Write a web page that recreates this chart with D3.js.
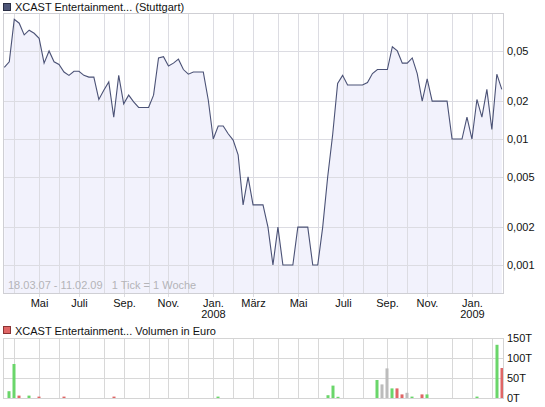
<!DOCTYPE html>
<html><head><meta charset="utf-8">
<script src="https://cdn.jsdelivr.net/npm/d3@7"></script>
<style>
html,body{margin:0;padding:0;background:#fff;}
svg text{font-family:"Liberation Sans",Arial,sans-serif;font-size:11px;}
</style></head>
<body>
<svg id="c" width="545" height="407"></svg>
<script>
// ---- data ----
const startDate = new Date(2007, 2, 18); // first weekly tick (18.03.07)
const priceTitle = "XCAST Entertainment... (Stuttgart)";
const volumeTitle = "XCAST Entertainment... Volumen in Euro";
const rangeLabel = "18.03.07 - 11.02.09   1 Tick = 1 Woche";
// weekly closing prices (EUR), one per week
const prices = [
  0.037, 0.041, 0.089, 0.083, 0.067, 0.073, 0.069, 0.063, 0.040, 0.050,
  0.041, 0.039, 0.034, 0.032, 0.0345, 0.0345, 0.032, 0.031, 0.031, 0.0206,
  0.0244, 0.0284, 0.0149, 0.032, 0.019, 0.0223, 0.0197, 0.0178, 0.0178, 0.0178,
  0.0223, 0.044, 0.045, 0.038, 0.040, 0.043, 0.0356, 0.0327, 0.034, 0.034,
  0.034, 0.0204, 0.010, 0.0127, 0.0127, 0.011, 0.0098, 0.0075, 0.003, 0.005,
  0.003, 0.003, 0.003, 0.002, 0.001, 0.002, 0.001, 0.001, 0.001, 0.002,
  0.002, 0.002, 0.001, 0.001, 0.002, 0.005, 0.0108, 0.0276, 0.032, 0.0268,
  0.0268, 0.0268, 0.0268, 0.0281, 0.0331, 0.0356, 0.0356, 0.0356, 0.054, 0.050,
  0.040, 0.040, 0.044, 0.033, 0.020, 0.030, 0.020, 0.020, 0.020, 0.020,
  0.010, 0.010, 0.010, 0.0149, 0.010, 0.0206, 0.0149, 0.0248, 0.0119, 0.0327,
  0.0248
];
// weekly volume in thousand EUR
const volumes = [
  0, 17, 85, 6, 0, 6, 0, 3.5, 0, 0,
  0, 0, 3.5, 0, 0, 0, 0, 0, 0, 0,
  0, 0, 3.5, 0, 0, 0, 0, 0, 0, 0,
  0, 0, 0, 0, 0, 0, 0, 0, 0, 0,
  0, 0, 0, 3.5, 0, 0, 0, 0, 0, 0,
  0, 0, 0, 0, 0, 0, 0, 0, 0, 0,
  0, 0, 0, 0, 0, 7, 31, 3, 0, 0,
  0, 0, 0, 0, 0, 45, 34, 74, 24, 24,
  9, 13, 3.5, 0, 9, 9, 0, 0, 0, 0,
  0, 0, 0, 0, 0, 3.5, 0, 0, 0, 133,
  75
];
const priceTicks = [0.001, 0.002, 0.005, 0.01, 0.02, 0.05];
const priceTickLabels = ["0,001", "0,002", "0,005", "0,01", "0,02", "0,05"];
const volumeTicks = [0, 50, 100, 150];
const volumeTickLabels = ["0T", "50T", "100T", "150T"];
const monthNames = ["Jan.", "Feb.", "März", "Apr.", "Mai", "Juni", "Juli", "Aug.", "Sep.", "Okt.", "Nov.", "Dez."];

// ---- derived ----
const dates = prices.map((_, i) => d3.timeWeek.offset(startDate, i));
const svg = d3.select("#c");
const L = 3, R = 503;
const P = {top: 13, bottom: 293};
const V = {top: 338, bottom: 398};
const gridC = "#dcdce2", frameC = "#cfcfd4";

const x = d3.scaleTime().domain([dates[0], dates[dates.length - 1]]).range([4.3, 501.8]);
const y = d3.scaleLog().domain([0.0006, 0.1]).range([P.bottom, P.top]);
const yv = d3.scaleLinear().domain([0, 150]).range([V.bottom, V.top]);

const months = d3.timeMonth.range(new Date(2007, 3, 1), new Date(2009, 2, 1));
const monthX = months.map(m => ({m, x: Math.round(x(d3.timeSunday.ceil(m))) + 0.5}));

// ===== price chart =====
svg.append("rect").attr("x", L + 0.5).attr("y", P.top + 0.5).attr("width", R - L).attr("height", P.bottom - P.top)
  .attr("fill", "#fff");

svg.append("path").datum(prices)
  .attr("fill", "#f2f2fc")
  .attr("d", d3.area().x((d, i) => x(dates[i])).y0(P.bottom).y1(d => y(d)));

const g = svg.append("g");
g.selectAll("line.vg").data(monthX).join("line")
  .attr("x1", d => d.x).attr("x2", d => d.x)
  .attr("y1", P.top).attr("y2", d => d.m.getMonth() % 2 === 0 ? P.bottom + 4 : P.bottom)
  .attr("stroke", gridC).attr("stroke-width", 1);
g.selectAll("line.hg").data(priceTicks).join("line")
  .attr("x1", L).attr("x2", R)
  .attr("y1", d => Math.round(y(d)) + 0.5).attr("y2", d => Math.round(y(d)) + 0.5)
  .attr("stroke", gridC);

svg.append("path").datum(prices)
  .attr("fill", "none").attr("stroke", "#4b5276").attr("stroke-width", 1.1)
  .attr("d", d3.line().x((d, i) => x(dates[i])).y(d => y(d)));

svg.append("rect").attr("x", L + 0.5).attr("y", P.top + 0.5).attr("width", R - L).attr("height", P.bottom - P.top)
  .attr("fill", "none").attr("stroke", frameC);

// right axis labels
svg.selectAll("text.py").data(priceTicks).join("text")
  .attr("x", R + 4).attr("y", d => y(d)).attr("dy", "0.35em")
  .attr("fill", "#111").text((d, i) => priceTickLabels[i]);

// bottom month labels
svg.selectAll("text.mx").data(monthX.filter(d => d.m.getMonth() % 2 === 0)).join("text")
  .attr("x", d => d.x).attr("y", 307).attr("text-anchor", "middle").attr("fill", "#111")
  .text(d => monthNames[d.m.getMonth()]);
svg.selectAll("text.yr").data(monthX.filter(d => d.m.getMonth() === 0)).join("text")
  .attr("x", d => d.x).attr("y", 317.5).attr("text-anchor", "middle").attr("fill", "#111")
  .text(d => d.m.getFullYear());

svg.append("text").attr("x", 8).attr("y", 289).attr("fill", "#b4b4b8")
  .attr("xml:space", "preserve").style("white-space", "pre").text(rangeLabel);

// title legend
svg.append("rect").attr("x", 3.5).attr("y", 3.5).attr("width", 7).attr("height", 7)
  .attr("fill", "#4e5678").attr("stroke", "#2a2e44");
svg.append("text").attr("x", 15).attr("y", 11).attr("fill", "#111").text(priceTitle);

// ===== volume chart =====
svg.append("rect").attr("x", 3.5).attr("y", 326.5).attr("width", 7).attr("height", 7)
  .attr("fill", "#e06666").attr("stroke", "#8a3333");
svg.append("text").attr("x", 15).attr("y", 334.5).attr("fill", "#111").text(volumeTitle);

const gv = svg.append("g");
gv.selectAll("line").data(monthX).join("line")
  .attr("x1", d => d.x).attr("x2", d => d.x).attr("y1", V.top).attr("y2", V.bottom)
  .attr("stroke", "#d8d8d8");
gv.selectAll("line.h").data(volumeTicks.filter(t => t > 0 && t < 150)).join("line")
  .attr("x1", L).attr("x2", R)
  .attr("y1", d => Math.round(yv(d)) + 0.5).attr("y2", d => Math.round(yv(d)) + 0.5)
  .attr("stroke", "#d8d8d8");

svg.selectAll("rect.vb").data(volumes.map((v, i) => ({v, i})).filter(d => d.v > 0)).join("rect")
  .attr("x", d => Math.round(x(dates[d.i])) - 1.5).attr("width", 3)
  .attr("y", d => yv(d.v)).attr("height", d => V.bottom - yv(d.v))
  .attr("fill", d => {
    const p = prices[d.i], q = d.i > 0 ? prices[d.i - 1] : p;
    return p > q ? "#6ad66a" : p < q ? "#e06666" : "#bcbcbc";
  });

svg.append("rect").attr("x", L + 0.5).attr("y", V.top + 0.5).attr("width", R - L).attr("height", V.bottom - V.top)
  .attr("fill", "none").attr("stroke", "#d4d4d4");

svg.selectAll("text.vy").data(volumeTicks).join("text")
  .attr("x", R + 4).attr("y", d => yv(d)).attr("dy", "0.35em")
  .attr("fill", "#111").text((d, i) => volumeTickLabels[i]);
</script>
</body></html>
